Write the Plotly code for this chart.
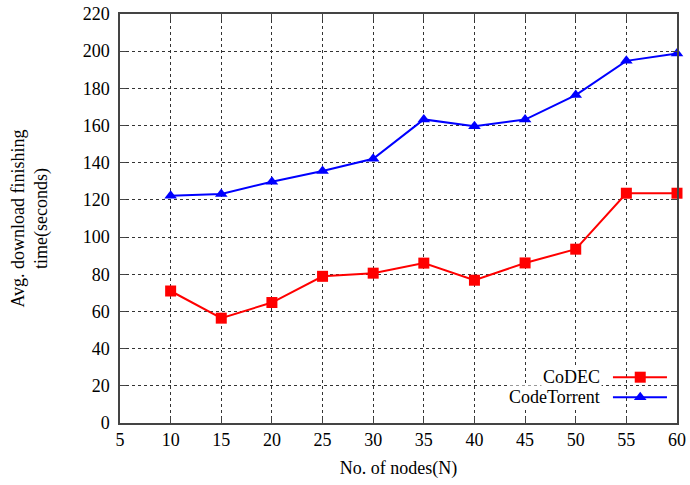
import plotly.graph_objects as go

nodes = [10, 15, 20, 25, 30, 35, 40, 45, 50, 55, 60]
codec = [71, 56.4, 64.8, 78.9, 80.6, 86, 76.8, 86.1, 93.5, 123.6, 123.6]
codetorrent = [122.2, 123.2, 129.8, 135.5, 142.1, 163.3, 159.6, 163.2, 176.4, 194.8, 198.8]
x_ticks = [5, 10, 15, 20, 25, 30, 35, 40, 45, 50, 55, 60]
y_ticks = [0, 20, 40, 60, 80, 100, 120, 140, 160, 180, 200, 220]
series_names = ["CoDEC", "CodeTorrent"]
colors = ["#ff0000", "#0000ff"]
symbols = ["square", "triangle-up"]

FONT = "Liberation Serif"
fig = go.Figure()
for name, vals, c, s in zip(series_names, [codec, codetorrent], colors, symbols):
    fig.add_trace(go.Scatter(x=nodes, y=vals, mode="lines+markers", name=name,
                             line=dict(color=c, width=2),
                             marker=dict(color=c, symbol=s, size=11),
                             showlegend=False, cliponaxis=False))

# custom legend (text left, sample right) on a hidden overlay axis
leg_y = [0.112, 0.063]
for name, c, s, ly in zip(series_names, colors, symbols, leg_y):
    fig.add_trace(go.Scatter(x=[0.885, 0.982], y=[ly, ly], mode="lines", xaxis="x2", yaxis="y2",
                             line=dict(color=c, width=2), showlegend=False, hoverinfo="skip"))
    fig.add_trace(go.Scatter(x=[0.934], y=[ly], mode="markers", xaxis="x2", yaxis="y2",
                             marker=dict(color=c, symbol=s, size=11), showlegend=False, hoverinfo="skip"))
    fig.add_annotation(x=0.865, y=ly, xref="x2", yref="y2", text=name, showarrow=False,
                       xanchor="right", yanchor="middle", bgcolor="white",
                       font=dict(family=FONT, size=18, color="black"))

axis_common = dict(showline=True, linecolor="#444444", linewidth=1.5, mirror="ticks",
                   ticks="inside", ticklen=6, tickcolor="#444444", tickwidth=1,
                   showgrid=True, gridcolor="#333333", griddash="dot", gridwidth=1,
                   zeroline=False, automargin=False,
                   tickfont=dict(family=FONT, size=18, color="black"))

fig.update_layout(
    width=690, height=485,
    margin=dict(l=120, r=13, t=14, b=62),
    paper_bgcolor="white", plot_bgcolor="white",
    xaxis=dict(range=[5, 60], tickvals=x_ticks, **axis_common,
               title=dict(text="No. of nodes(N)", font=dict(family=FONT, size=18, color="black"), standoff=12)),
    yaxis=dict(range=[0, 220], tickvals=y_ticks, ticklabelstandoff=5, **axis_common,
               title=dict(text="Avg. download finishing<br>time(seconds)",
                          font=dict(family=FONT, size=18, color="black"), standoff=30)),
    xaxis2=dict(range=[0, 1], overlaying="x", visible=False, fixedrange=True),
    yaxis2=dict(range=[0, 1], overlaying="y", visible=False, fixedrange=True),
)
fig.write_html("out.html", config={"displayModeBar": False},
               post_script="document.body.style.margin='0';document.body.style.overflow='hidden';")
